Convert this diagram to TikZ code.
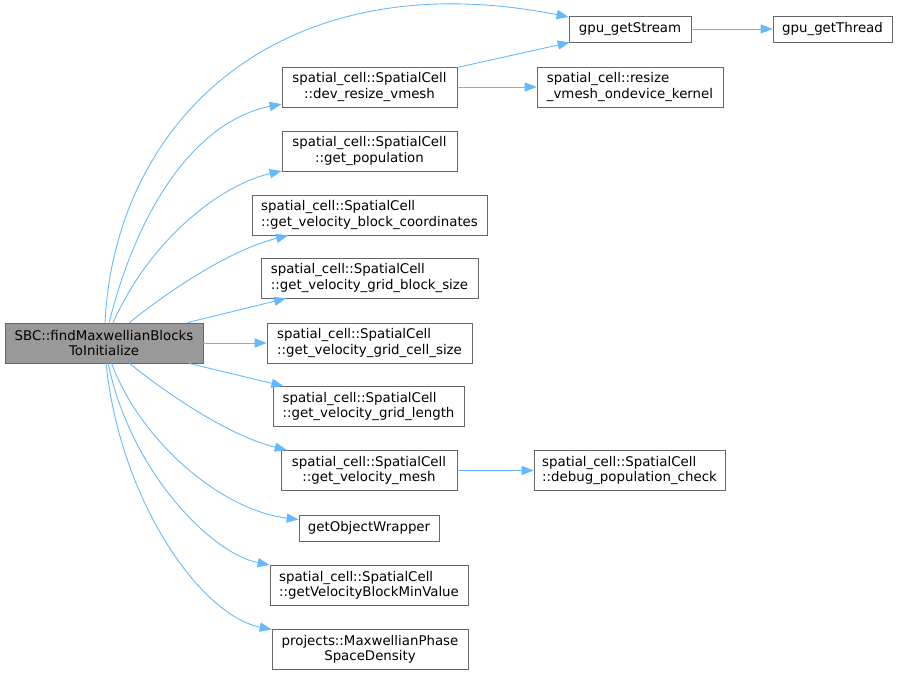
\documentclass[tikz,border=0pt]{standalone}
\usepackage{fontspec}
\setmainfont{DejaVu Sans}
\usepackage{xcolor}
\usepackage{tikz}
\usetikzlibrary{arrows.meta}
\usetikzlibrary{positioning}
\definecolor{edgeblue}{HTML}{63B8FF}
\definecolor{boxgray}{HTML}{666666}
\definecolor{rootgray}{HTML}{999999}
\tikzset{
    fnode/.style = {rectangle, draw=boxgray, line width=0.5pt, fill=white, align=center, inner sep=0pt, font=\fontsize{7.6}{8.6}\selectfont, minimum height=0.8cm},
    fnodel/.style = {fnode, align=left},
    fnodes/.style = {fnode, minimum height=0.52cm},
    rootnode/.style = {fnode, fill=rootgray},
    edge/.style = {-{Triangle[length=6.8pt,width=5.2pt]}, draw=edgeblue, line width=0.5pt},
}
\begin{document}
\begin{tikzpicture}[x=0.02cm, y=-0.02cm]
\useasboundingbox (0,0) rectangle (897,675);
\node[rootnode, minimum width=3.96cm] at (104,343) (root) {SBC::findMaxwellianBlocks\\ToInitialize};
%
\node[fnodes, minimum width=2.44cm] at (630,29) (gs) {gpu\_getStream};
\node[fnodes, minimum width=2.38cm] at (832.5,29) (gt) {gpu\_getThread};
\node[fnode, minimum width=3.5cm] at (369.5,87) (dr) {spatial\_cell::SpatialCell\\::dev\_resize\_vmesh};
\node[fnodel, minimum width=3.72cm] at (630,87) (rk) {spatial\_cell::resize\\\_vmesh\_ondevice\_kernel};
\node[fnode, minimum width=3.5cm] at (369.5,151) (gp) {spatial\_cell::SpatialCell\\::get\_population};
\node[fnodel, minimum width=4.7cm] at (369.5,215) (gvbc) {spatial\_cell::SpatialCell\\::get\_velocity\_block\_coordinates};
\node[fnodel, minimum width=4.34cm] at (369.5,278) (gvgbs) {spatial\_cell::SpatialCell\\::get\_velocity\_grid\_block\_size};
\node[fnodel, minimum width=4.1cm] at (369.5,343) (gvgcs) {spatial\_cell::SpatialCell\\::get\_velocity\_grid\_cell\_size};
\node[fnodel, minimum width=3.82cm] at (368.5,406.5) (gvgl) {spatial\_cell::SpatialCell\\::get\_velocity\_grid\_length};
\node[fnode, minimum width=3.52cm] at (369,470.5) (gvm) {spatial\_cell::SpatialCell\\::get\_velocity\_mesh};
\node[fnodel, minimum width=3.82cm] at (629.5,470.5) (dpc) {spatial\_cell::SpatialCell\\::debug\_population\_check};
\node[fnodes, minimum width=2.8cm] at (369,528) (gow) {getObjectWrapper};
\node[fnodel, minimum width=3.96cm] at (369,585) (gvbmv) {spatial\_cell::SpatialCell\\::getVelocityBlockMinValue};
\node[fnode, minimum width=3.92cm] at (370,649.5) (mpsd) {projects::MaxwellianPhase\\SpaceDensity};
%
\draw[edge] (root) .. controls (115,120) and (280,-40) .. (gs);
\draw[edge] (root) .. controls (140,200) and (200,120) .. (dr);
\draw[edge] (root) .. controls (150,240) and (220,185) .. (gp);
\draw[edge] (root) .. controls (170,290) and (230,250) .. (gvbc);
\draw[edge] (root) -- (gvgbs);
\draw[edge] (root) -- (gvgcs);
\draw[edge] (root) -- (gvgl);
\draw[edge] (root) .. controls (170,396) and (230,436) .. (gvm);
\draw[edge] (root) .. controls (140,440) and (220,510) .. (gow);
\draw[edge] (root) .. controls (130,470) and (210,553) .. (gvbmv);
\draw[edge] (root) .. controls (120,500) and (200,615) .. (mpsd);
%
\draw[edge] (dr) -- (gs);
\draw[edge] (dr) -- (rk);
\draw[edge] (gs) -- (gt);
\draw[edge] (gvm) -- (dpc);
\end{tikzpicture}
\end{document}
